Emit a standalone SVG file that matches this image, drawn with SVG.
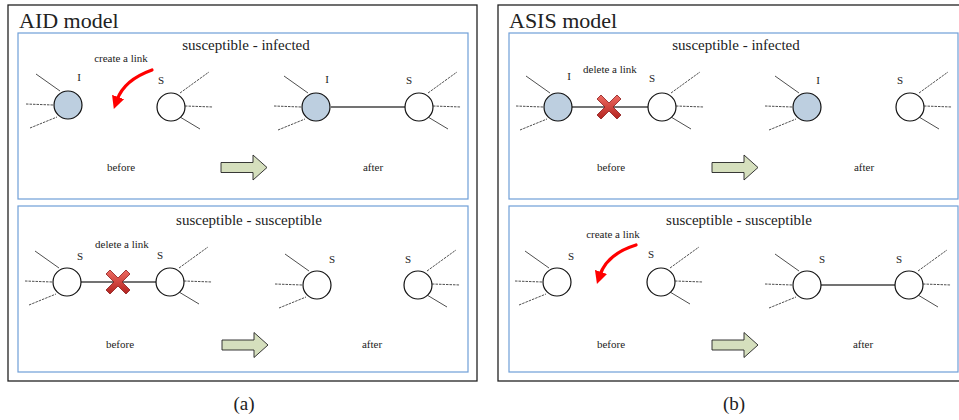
<svg xmlns="http://www.w3.org/2000/svg" xmlns:xlink="http://www.w3.org/1999/xlink" width="959" height="420" viewBox="0 0 959 420" font-family="'Liberation Serif', 'DejaVu Serif', serif">
<style>
text{font-family:'Liberation Serif','DejaVu Serif',serif;fill:#222}
.outer{fill:none;stroke:#222;stroke-width:1.3}
.panel{fill:#fff;stroke:#6f9fd8;stroke-width:1.2}
.model{font-size:22px}
.title{font-size:15px;text-anchor:middle}
.small{font-size:11px;text-anchor:middle}
.lbl{font-size:11px;text-anchor:middle}
.cap{font-size:19px;text-anchor:middle}
.node{stroke:#111;stroke-width:1.2}
.inf{fill:#bdcfe0}
.sus{fill:#fff}
.spoke{stroke:#222;stroke-width:0.8;fill:none}
.dash{stroke-dasharray:2.5,1}
.link{stroke:#444;stroke-width:1.3}
.redarrow{fill:none;stroke:#f00;stroke-width:3.2;stroke-linecap:round}
.go{fill:#d5dfbd;stroke:#222;stroke-width:0.9}
.x{fill:url(#xg);stroke:#8a1a1a;stroke-width:0.8;stroke-linejoin:round}
</style>
<defs>
<linearGradient id="xg" x1="0" y1="0" x2="0" y2="1">
<stop offset="0" stop-color="#ee6b62"/>
<stop offset="1" stop-color="#b3231f"/>
</linearGradient>
<g id="spL">
<line class="spoke" x1="-32" y1="-31" x2="-8" y2="-14"/>
<line class="spoke dash" x1="-42" y1="-1" x2="-15" y2="0"/>
<line class="spoke dash" x1="-38" y1="23" x2="-11" y2="12"/>
</g>
<g id="spR">
<line class="spoke dash" x1="9" y1="-14" x2="38" y2="-35"/>
<line class="spoke dash" x1="14" y1="-1" x2="42" y2="0"/>
<line class="spoke" x1="9" y1="10" x2="29" y2="22"/>
</g>
<polygon id="xmark" class="x" points="-12,-8 -8,-12 0,-4 8,-12 12,-8 4,0 12,8 8,12 0,4 -8,12 -12,8 -4,0"/>
<polygon id="go" class="go" points="0,-5 32,-5 32,-12.5 46,0 32,12.5 32,5 0,5"/>
<marker id="rh" markerWidth="4" markerHeight="4" refX="1" refY="2" orient="auto" markerUnits="strokeWidth">
<path d="M0,0 L4,2 L0,4 Z" fill="#f00"/>
</marker>
</defs>

<!-- Panel (a) -->
<g id="panelA">
<rect class="outer" x="8" y="5" width="469" height="376"/>
<text class="model" x="19" y="28">AID model</text>
<rect class="panel" x="18" y="33" width="450" height="166"/>
<rect class="panel" x="18" y="206" width="450" height="166"/>
<text class="title" x="246" y="50">susceptible - infected</text>
<text class="title" x="249" y="225">susceptible - susceptible</text>
<text class="cap" x="244" y="410">(a)</text>
</g>

<!-- Panel (b) -->
<g id="panelB">
<rect class="outer" x="498" y="5" width="470" height="376"/>
<text class="model" x="509" y="28">ASIS model</text>
<rect class="panel" x="509" y="33" width="449" height="166"/>
<rect class="panel" x="509" y="206" width="449" height="166"/>
<text class="title" x="736" y="50">susceptible - infected</text>
<text class="title" x="739" y="225">susceptible - susceptible</text>
<text class="cap" x="734" y="410">(b)</text>
</g>

<!-- connectors / links -->
<g id="connectors">
<line class="link" x1="331" y1="107" x2="405" y2="107"/>
<line class="link" x1="81" y1="282" x2="156" y2="282"/>
<line class="link" x1="572" y1="107" x2="648" y2="107"/>
<line class="link" x1="821" y1="285" x2="895" y2="285"/>
<path class="redarrow" d="M152,70 Q124,80 117,100" marker-end="url(#rh)"/>
<path class="redarrow" d="M636,245 Q607,254 600,275" marker-end="url(#rh)"/>
<use xlink:href="#go" x="221" y="167.5"/>
<use xlink:href="#go" x="222" y="345"/>
<use xlink:href="#go" x="712" y="167.5"/>
<use xlink:href="#go" x="712" y="345"/>
<use xlink:href="#xmark" x="118" y="282"/>
<use xlink:href="#xmark" x="609" y="107"/>
</g>

<!-- (a) top: before -->
<g id="a1-I"><use xlink:href="#spL" x="68" y="105"/><circle class="node inf" cx="68" cy="105" r="14"/><text class="lbl" x="79" y="81">I</text></g>
<g id="a1-S"><use xlink:href="#spR" x="171" y="107"/><circle class="node sus" cx="171" cy="107" r="14"/><text class="lbl" x="161" y="84">S</text></g>
<text class="small" x="121" y="62">create a link</text>
<text class="small" x="121" y="171">before</text>
<!-- (a) top: after -->
<g id="a1-I2"><use xlink:href="#spL" x="316" y="107"/><circle class="node inf" cx="316" cy="107" r="14"/><text class="lbl" x="327" y="83">I</text></g>
<g id="a1-S2"><use xlink:href="#spR" x="419" y="107"/><circle class="node sus" cx="419" cy="107" r="14"/><text class="lbl" x="409" y="84">S</text></g>
<text class="small" x="373" y="171">after</text>

<!-- (a) bottom: before -->
<g id="a2-S1"><use xlink:href="#spL" x="67" y="282"/><circle class="node sus" cx="67" cy="282" r="14"/><text class="lbl" x="80" y="260">S</text></g>
<g id="a2-S2"><use xlink:href="#spR" x="170" y="282"/><circle class="node sus" cx="170" cy="282" r="14"/><text class="lbl" x="160" y="259">S</text></g>
<text class="small" x="122" y="248">delete a link</text>
<text class="small" x="120" y="348">before</text>
<!-- (a) bottom: after -->
<g id="a2-S3"><use xlink:href="#spL" x="317" y="285"/><circle class="node sus" cx="317" cy="285" r="14"/><text class="lbl" x="332" y="263">S</text></g>
<g id="a2-S4"><use xlink:href="#spR" x="418" y="285"/><circle class="node sus" cx="418" cy="285" r="14"/><text class="lbl" x="408" y="263">S</text></g>
<text class="small" x="372" y="348">after</text>

<!-- (b) top: before -->
<g id="b1-I"><use xlink:href="#spL" x="558" y="107"/><circle class="node inf" cx="558" cy="107" r="14"/><text class="lbl" x="569" y="80">I</text></g>
<g id="b1-S"><use xlink:href="#spR" x="662" y="107"/><circle class="node sus" cx="662" cy="107" r="14"/><text class="lbl" x="652" y="82">S</text></g>
<text class="small" x="610" y="73">delete a link</text>
<text class="small" x="611" y="171">before</text>
<!-- (b) top: after -->
<g id="b1-I2"><use xlink:href="#spL" x="807" y="107"/><circle class="node inf" cx="807" cy="107" r="14"/><text class="lbl" x="818" y="84">I</text></g>
<g id="b1-S2"><use xlink:href="#spR" x="910" y="107"/><circle class="node sus" cx="910" cy="107" r="14"/><text class="lbl" x="900" y="84">S</text></g>
<text class="small" x="864" y="171">after</text>

<!-- (b) bottom: before -->
<g id="b2-S1"><use xlink:href="#spL" x="557" y="282"/><circle class="node sus" cx="557" cy="282" r="14"/><text class="lbl" x="571" y="260">S</text></g>
<g id="b2-S2"><use xlink:href="#spR" x="661" y="282"/><circle class="node sus" cx="661" cy="282" r="14"/><text class="lbl" x="651" y="258">S</text></g>
<text class="small" x="613" y="238">create a link</text>
<text class="small" x="611" y="348">before</text>
<!-- (b) bottom: after -->
<g id="b2-S3"><use xlink:href="#spL" x="807" y="285"/><circle class="node sus" cx="807" cy="285" r="14"/><text class="lbl" x="822" y="263">S</text></g>
<g id="b2-S4"><use xlink:href="#spR" x="909" y="285"/><circle class="node sus" cx="909" cy="285" r="14"/><text class="lbl" x="899" y="263">S</text></g>
<text class="small" x="863" y="348">after</text>
</svg>
